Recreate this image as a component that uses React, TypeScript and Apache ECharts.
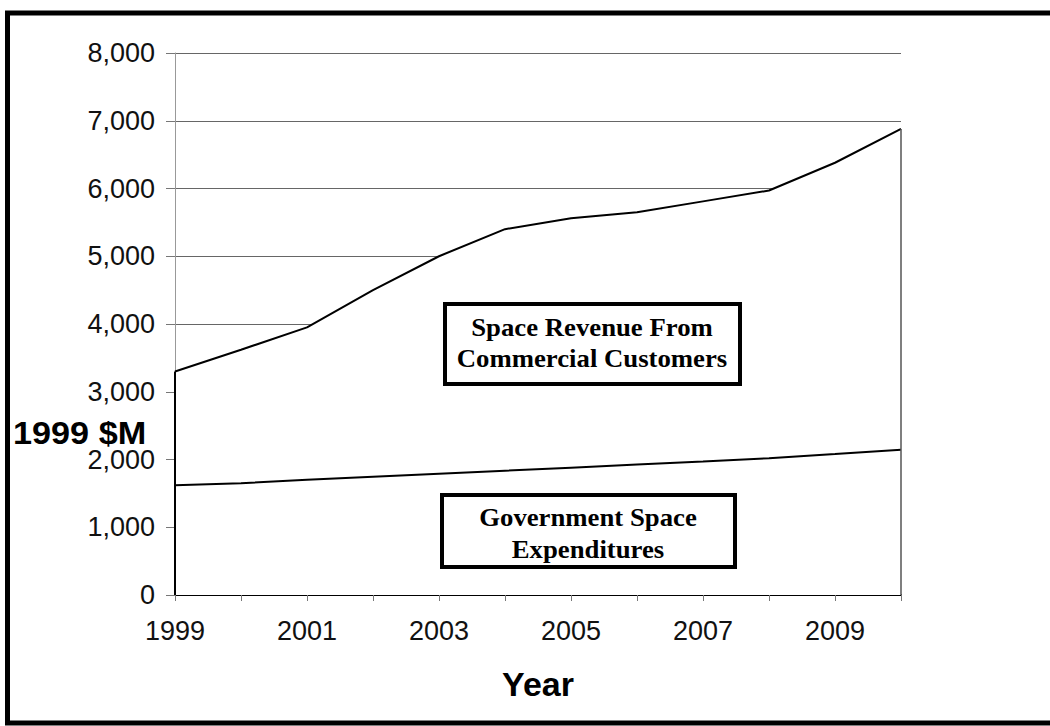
import React, { useEffect, useRef } from "react";
import * as echarts from "echarts";

const years = ["1999", "2000", "2001", "2002", "2003", "2004", "2005", "2006", "2007", "2008", "2009", "2010"];
const governmentSpace = [1620, 1650, 1700, 1745, 1790, 1835, 1880, 1925, 1970, 2020, 2080, 2145];
const commercialRevenue = [1680, 1970, 2250, 2755, 3210, 3565, 3680, 3725, 3840, 3950, 4300, 4735];
const yTicks = { min: 0, max: 8000, interval: 1000 };

export default function App() {
  const ref = useRef<HTMLDivElement>(null);
  useEffect(() => {
    if (!ref.current) return;
    const chart = echarts.init(ref.current, null, { renderer: "svg" });
    const last = years.length - 1;
    const topFirst = governmentSpace[0] + commercialRevenue[0];
    const topLast = governmentSpace[last] + commercialRevenue[last];
    const serifBold = { fontFamily: "Liberation Serif", fontWeight: "bold", fontSize: 25, fill: "#000" };
    const sx = 1.07;
    chart.setOption({
      animation: false,
      backgroundColor: "#fff",
      grid: { left: 175, right: 149, top: 53, bottom: 131 },
      xAxis: {
        type: "category",
        data: years,
        boundaryGap: false,
        name: "Year",
        nameLocation: "middle",
        nameGap: 72,
        nameTextStyle: { fontFamily: "Liberation Sans", fontWeight: "bold", fontSize: 34, color: "#000" },
        axisLine: { lineStyle: { color: "#000", width: 2 } },
        axisTick: { show: true, interval: 0, length: 6, lineStyle: { color: "#777" } },
        axisLabel: { interval: 1, margin: 22, fontFamily: "Liberation Sans", fontSize: 27, color: "#111" },
        splitLine: { show: false },
      },
      yAxis: {
        type: "value",
        min: yTicks.min,
        max: yTicks.max,
        interval: yTicks.interval,
        axisLine: { show: true, lineStyle: { color: "#999", width: 1 } },
        axisTick: { show: true, length: 9, lineStyle: { color: "#777" } },
        axisLabel: {
          margin: 20,
          fontFamily: "Liberation Sans",
          fontSize: 27,
          color: "#111",
          formatter: (v: number) => v.toLocaleString("en-US"),
        },
        splitLine: { show: true, lineStyle: { color: "#666", width: 1 } },
      },
      series: [
        {
          name: "Government Space Expenditures",
          type: "line",
          stack: "total",
          data: governmentSpace,
          symbol: "none",
          lineStyle: { color: "#000", width: 2 },
          areaStyle: { color: "#fff", opacity: 1 },
          z: 3,
          markLine: {
            silent: true,
            symbol: "none",
            label: { show: false },
            data: [
              [
                { coord: [years[0], 0], lineStyle: { color: "#000", width: 2, type: "solid" } },
                { coord: [years[0], topFirst] },
              ],
              [
                { coord: [years[last], 0], lineStyle: { color: "#555", width: 1.5, type: "solid" } },
                { coord: [years[last], topLast] },
              ],
            ],
          },
        },
        {
          name: "Space Revenue From Commercial Customers",
          type: "line",
          stack: "total",
          data: commercialRevenue,
          symbol: "none",
          lineStyle: { color: "#000", width: 2 },
          areaStyle: { color: "#fff", opacity: 1 },
          z: 2,
        },
      ],
      graphic: [
        {
          type: "rect",
          z: 100,
          shape: { x: 7.5, y: 13, width: 1100, height: 710 },
          style: { fill: "none", stroke: "#000", lineWidth: 5 },
        },
        {
          type: "text",
          z: 100,
          x: 13,
          y: 433,
          scaleX: 1.07,
          style: {
            text: "1999 $M",
            fontFamily: "Liberation Sans",
            fontWeight: "bold",
            fontSize: 32,
            fill: "#000",
            textAlign: "left",
            textVerticalAlign: "middle",
          },
        },
        {
          type: "rect",
          z: 100,
          shape: { x: 445, y: 304, width: 295, height: 80 },
          style: { fill: "#fff", stroke: "#000", lineWidth: 4 },
        },
        {
          type: "text",
          z: 101,
          x: 592,
          y: 328,
          scaleX: sx,
          style: { ...serifBold, text: "Space Revenue From", textAlign: "center", textVerticalAlign: "middle" },
        },
        {
          type: "text",
          z: 101,
          x: 592,
          y: 359,
          scaleX: sx,
          style: { ...serifBold, text: "Commercial Customers", textAlign: "center", textVerticalAlign: "middle" },
        },
        {
          type: "rect",
          z: 100,
          shape: { x: 442, y: 495, width: 293, height: 72 },
          style: { fill: "#fff", stroke: "#000", lineWidth: 4 },
        },
        {
          type: "text",
          z: 101,
          x: 588,
          y: 518,
          scaleX: sx,
          style: { ...serifBold, text: "Government Space", textAlign: "center", textVerticalAlign: "middle" },
        },
        {
          type: "text",
          z: 101,
          x: 588,
          y: 550,
          scaleX: sx,
          style: { ...serifBold, text: "Expenditures", textAlign: "center", textVerticalAlign: "middle" },
        },
        {
          type: "rect",
          z: 102,
          shape: { x: 442, y: 495, width: 293, height: 72 },
          style: { fill: "none", stroke: "#000", lineWidth: 4 },
        },
      ],
    });
    return () => chart.dispose();
  }, []);
  return (
    <div
      ref={ref}
      style={{ position: "fixed", left: 0, top: 0, width: 1050, height: 726, background: "#fff" }}
    />
  );
}
